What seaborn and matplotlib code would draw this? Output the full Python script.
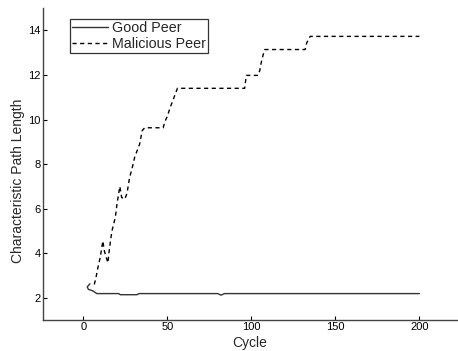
import matplotlib
matplotlib.use("Agg")
import matplotlib.pyplot as plt
import seaborn as sns
import pandas as pd

good_cycle = [3.9, 2.3, 3.0, 5.7, 8, 21, 22, 32, 33, 80, 82, 84, 200]
good_value = [2.63, 2.49, 2.38, 2.31, 2.19, 2.19, 2.14, 2.14, 2.19, 2.19, 2.12, 2.19, 2.19]

mal_cycle = [6.5, 7.5, 8.5, 10, 11.6, 12.5, 14.6, 15.5, 17, 19, 20, 21.7, 22.8, 24.7, 26,
             27.5, 29, 30.5, 32, 33.5, 35, 36.5, 47.5, 48.5, 50, 51.5, 53, 54.5, 56,
             96, 97, 104, 105, 106, 107, 108, 132, 133, 135, 200]
mal_value = [2.6, 2.9, 3.3, 3.8, 4.55, 4.1, 3.57, 4.2, 5.0, 5.6, 6.2, 7.0, 6.5, 6.43, 6.7,
             7.4, 7.8, 8.3, 8.6, 8.9, 9.5, 9.63, 9.63, 9.9, 10.15, 10.5, 10.8, 11.1, 11.4,
             11.4, 11.98, 11.98, 12.2, 12.6, 12.9, 13.14, 13.14, 13.45, 13.73, 13.73]

x_ticks = [0, 50, 100, 150, 200]
y_ticks = [2, 4, 6, 8, 10, 12, 14]

sns.set_style("white")
plt.rcParams["font.family"] = ["Liberation Sans", "DejaVu Sans"]

good = pd.DataFrame({"Cycle": good_cycle, "Value": good_value})
mal = pd.DataFrame({"Cycle": mal_cycle, "Value": mal_value})

fig = plt.figure(figsize=(4.58, 3.51), dpi=100)
ax = fig.add_axes([0.094, 0.088, 0.906, 0.889])

sns.lineplot(data=good, x="Cycle", y="Value", sort=False, ax=ax, color="#333333",
             linewidth=1.0, label="Good Peer")
sns.lineplot(data=mal, x="Cycle", y="Value", sort=False, ax=ax, color="black",
             linewidth=1.0, linestyle=(0, (3, 2.5)), label="Malicious Peer")

ax.set_xlim(-24, 223)
ax.set_ylim(1, 15)
ax.set_xticks(x_ticks)
ax.set_yticks(y_ticks)
ax.tick_params(axis="both", labelsize=8, direction="in", length=3, width=0.8,
               colors="black", left=True, bottom=True, pad=1.5)
ax.set_xlabel("Cycle", fontsize=10, va="center")
ax.set_ylabel("Characteristic Path Length", fontsize=10, va="center")
ax.xaxis.set_label_coords(0.499, -0.074)
ax.yaxis.set_label_coords(-0.06, 0.446)
for s in ["top", "right"]:
    ax.spines[s].set_visible(False)
for s in ["left", "bottom"]:
    ax.spines[s].set_color("#444444")
    ax.spines[s].set_linewidth(1.0)

leg = ax.legend(loc="upper left", bbox_to_anchor=(0.065, 0.965), borderaxespad=0,
                fontsize=10.3, frameon=True, fancybox=False, handlelength=2.5,
                handletextpad=0.3, borderpad=0.12, labelspacing=0.15)
leg.get_frame().set_edgecolor("black")
leg.get_frame().set_linewidth(0.9)

fig.savefig("out.png", dpi=100)
